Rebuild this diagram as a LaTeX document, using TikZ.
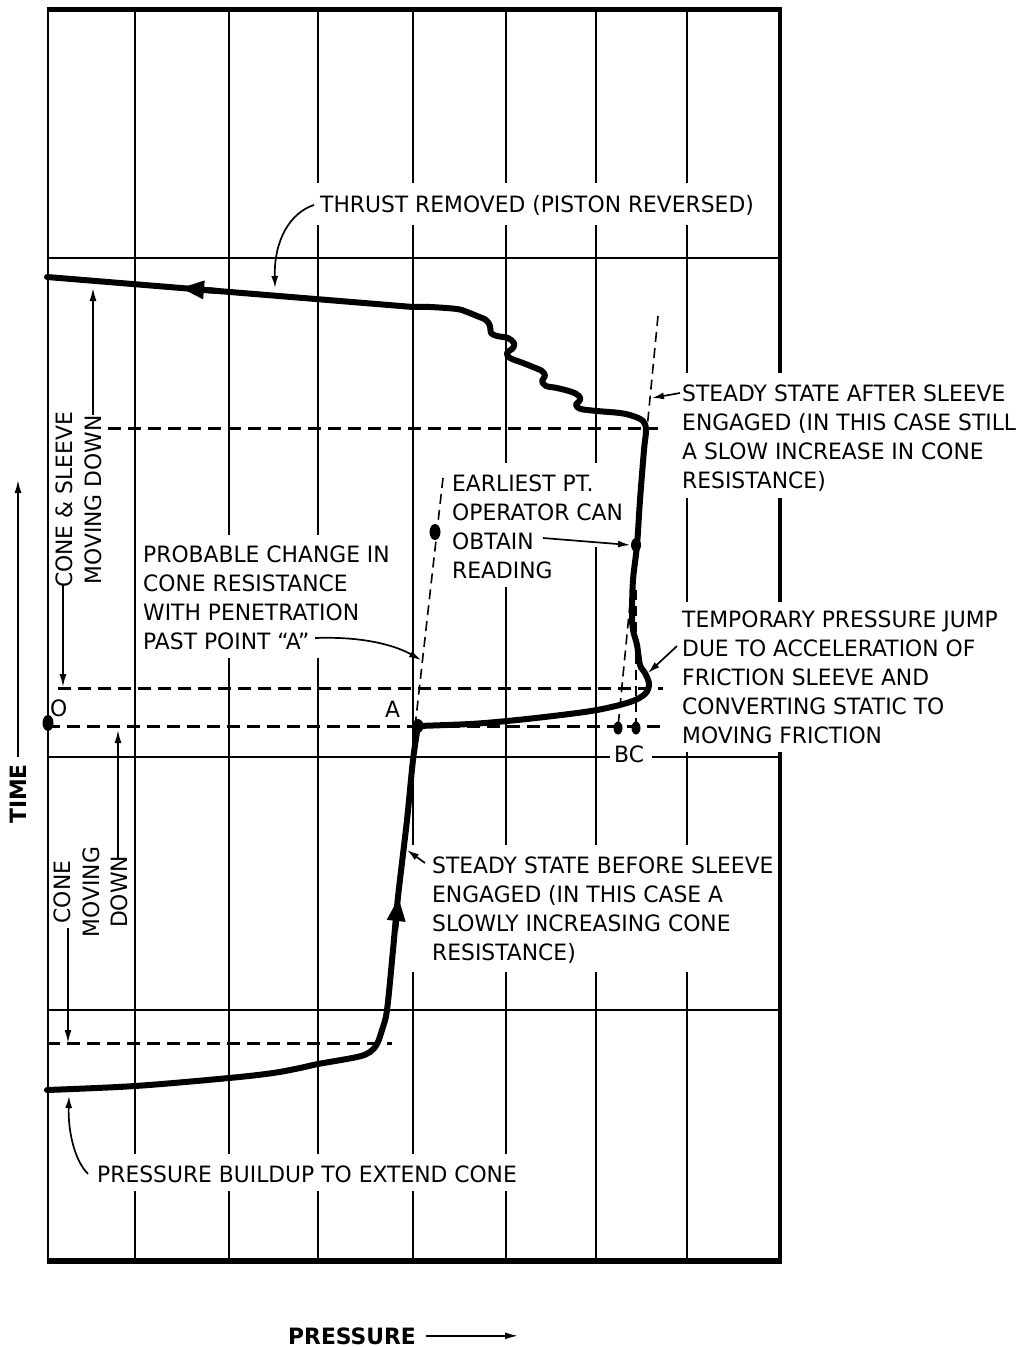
\documentclass[tikz,border=0pt]{standalone}
\usepackage{fontspec}
\setmainfont{DejaVu Sans}[FakeStretch=0.97]
\usetikzlibrary{arrows.meta}
\newcommand\lstack[1]{\vtop{\halign{##\hfil\cr#1\crcr}}}
\newcommand\cstack[1]{\vtop{\halign{\hfil##\hfil\cr#1\crcr}}}
\begin{document}
\begin{tikzpicture}[x=1pt,y=-1pt,
  grid/.style={line width=2pt},
  curve/.style={line width=6pt, line join=round, line cap=round},
  hdash/.style={line width=3pt, dash pattern=on 13pt off 7pt},
  sdash/.style={line width=1.6pt, dash pattern=on 10pt off 6pt},
  lead/.style={line width=1.7pt, -{Latex[length=12pt,width=7pt]}},
  dimarrow/.style={line width=1.7pt, -{Latex[length=13pt,width=7pt]}},
  bigtip/.style={line width=6pt, -{Triangle[length=24pt,width=17pt]}},
  lbl/.style={inner sep=0pt, font=\fontsize{22.5}{29}\selectfont},
  boldlbl/.style={inner sep=0pt, font=\fontsize{22.5}{29}\selectfont\bfseries},
]
\useasboundingbox[fill=white] (0,0) rectangle (1023,1347);

% grid lines (with gaps where the labels sit)
\draw[grid] (135,10) -- (135,1154) (135,1191) -- (135,1262);
\draw[grid] (229,10) -- (229,535) (229,658) -- (229,1154) (229,1191) -- (229,1262);
\draw[grid] (318,10) -- (318,183) (318,225) -- (318,535) (318,658) -- (318,1154) (318,1191) -- (318,1262);
\draw[grid] (413,10) -- (413,183) (413,225) -- (413,845) (413,972) -- (413,1154) (413,1191) -- (413,1262);
\draw[grid] (506,10) -- (506,183) (506,225) -- (506,463) (506,587) -- (506,845) (506,972) -- (506,1154) (506,1191) -- (506,1262);
\draw[grid] (596,10) -- (596,183) (596,225) -- (596,463) (596,547) -- (596,845) (596,972) -- (596,1262);
\draw[grid] (687,10) -- (687,183) (687,225) -- (687,373) (687,498) -- (687,602) (687,752) -- (687,845) (687,972) -- (687,1262);
\draw[grid] (47,258) -- (780,258);
\draw[grid] (47,757) -- (610,757) (652,757) -- (780,757);
\draw[grid] (47,1010) -- (780,1010);

% frame
\draw[line width=2.8pt] (48,10) -- (48,1262);
\draw[line width=3.8pt] (780,10) -- (780,373) (780,498) -- (780,602) (780,752) -- (780,1262);
\draw[line width=5.2pt] (46.5,9.5) -- (781.9,9.5);
\draw[line width=6.8pt] (46.5,1261) -- (781.9,1261);

% horizontal dashed lines
\draw[hdash] (108,428) -- (658,428);
\draw[hdash] (58,688) -- (663,688);
\draw[hdash] (47,726) -- (663,726);
\draw[hdash] (47,1043) -- (392,1043);

% slanted thin dashed lines
\draw[sdash] (443,478) -- (415,727);
\draw[sdash] (658,316) -- (618,727);
\draw[sdash] (636,590) -- (636,727);

% main curve
\draw[curve] plot[smooth, tension=0.55] coordinates {(47,1090) (135,1086) (229,1078) (273,1073) (300,1068) (318,1064) (357,1057) (370,1052) (377,1044) (382,1030) (387,1010) (393,950) (398,897) (407,820) (413,760) (418,726)}
  -- plot[smooth, tension=0.55] coordinates {(418,726) (470,724) (507,721) (553,716) (597,710) (630,702) (645,694) (649,684) (645,673) (640,665) (637,645) (633,630) (632,615) (633,580) (637,545) (640,500) (644,450) (646,430) (643,421) (633,416) (620,413) (597,411) (581,409) (576,405) (580,400) (579,396) (572,392) (557,388) (546,386) (542,381) (545,376) (542,371) (533,367) (523,363) (510,358) (507,353) (513,348) (514,343) (508,338) (497,336) (491,333) (490,326) (486,320) (477,316) (467,312) (457,309) (430,307) (413,307)}
  -- (47,277);
\draw[bigtip] (215,290.8) -- (180,287.9);
\draw[bigtip] (395.2,930) -- (398.7,897);

% dots
\fill (48,723) ellipse [x radius=5.5, y radius=8];
\fill (418,726) ellipse [x radius=5.5, y radius=7];
\fill (435,532) ellipse [x radius=5.5, y radius=8];
\fill (636,545) ellipse [x radius=5, y radius=7];
\fill (618,728) ellipse [x radius=4.5, y radius=6.5];
\fill (636,728) ellipse [x radius=4.5, y radius=6.5];

% point labels
\node[lbl, anchor=base west] (lO) at (50,716) {O};
\node[lbl, anchor=base west] (lA) at (385,717) {A};
\node[lbl, anchor=base west] (lBC) at (614,762) {BC};

% text labels
\node[lbl, anchor=base west] (thrust) at (320,212) {THRUST REMOVED (PISTON REVERSED)};
\node[lbl, anchor=base west] (after) at (682,401) {\lstack{STEADY STATE AFTER SLEEVE\cr ENGAGED (IN THIS CASE STILL\cr A SLOW INCREASE IN CONE\cr RESISTANCE)}};
\node[lbl, anchor=base west] (earliest) at (452,491) {\lstack{EARLIEST PT.\cr OPERATOR CAN\cr OBTAIN\cr READING}};
\node[lbl, anchor=base west] (probable) at (143,562) {\lstack{PROBABLE CHANGE IN\cr CONE RESISTANCE\cr WITH PENETRATION\cr PAST POINT “A”}};
\node[lbl, anchor=base west] (temp) at (682,627) {\lstack{TEMPORARY PRESSURE JUMP\cr DUE TO ACCELERATION OF\cr FRICTION SLEEVE AND\cr CONVERTING STATIC TO\cr MOVING FRICTION}};
\node[lbl, anchor=base west] (before) at (432,873) {\lstack{STEADY STATE BEFORE SLEEVE\cr ENGAGED (IN THIS CASE A\cr SLOWLY INCREASING CONE\cr RESISTANCE)}};
\node[lbl, anchor=base west] (buildup) at (97,1182) {PRESSURE BUILDUP TO EXTEND CONE};
\node[boldlbl, anchor=base west] (press) at (288,1344) {PRESSURE};
\node[boldlbl, rotate=90, anchor=base] (time) at (27,794) {TIME};
\node[lbl, rotate=90, anchor=base] (cs) at (72,500) {\cstack{CONE \& SLEEVE\cr MOVING DOWN}};
\node[lbl, rotate=90, anchor=base] (cm) at (70,892) {\cstack{CONE\cr MOVING\cr DOWN}};

% leaders
\draw[lead] ([xshift=-6pt]thrust.west) .. controls (290,213) and (274,240) .. (275,288);
\draw[lead] ([shift={(-2,-8)}]after.base west) -- (652,398);
\draw[lead] (543,538) -- (630,545);
\draw[lead] (315,638) .. controls (370,636) and (400,648) .. (421,660);
\draw[lead] ([shift={(-5,-10)}]temp.base west) ++(0,29) -- (648,673);
\draw[lead] ([shift={(-7,-10)}]before.base west) -- (407,850);
\draw[lead] ([xshift=-9pt]buildup.west) .. controls (74,1160) and (68,1130) .. (69,1096);

% dimension arrows
\draw[dimarrow] (18,757) -- (18,480);
\draw[dimarrow] ([xshift=10pt]press.east) -- ++(92,0);
\draw[dimarrow] (93,415) -- (93,288);
\draw[dimarrow] (63,585) -- (63,687);
\draw[dimarrow] (118,858) -- (118,730);
\draw[dimarrow] (68,928) -- (68,1043);
\end{tikzpicture}
\end{document}
